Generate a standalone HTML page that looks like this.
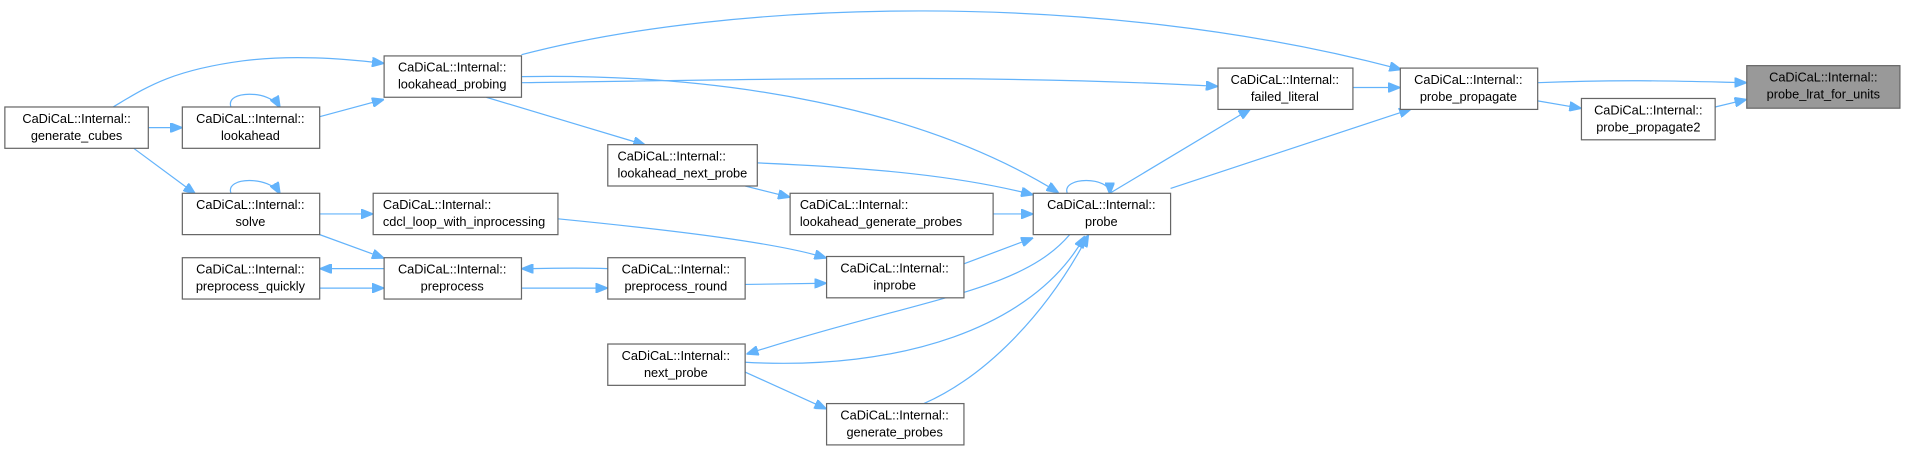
<!DOCTYPE html>
<html><head><meta charset="utf-8"><style>
html,body{margin:0;padding:0;background:#fff;}
svg{display:block;}
text{font-family:"Liberation Sans",sans-serif;font-size:10.5px;fill:#000;}
.n{fill:#fff;stroke:#666;stroke-width:1;}
.e{fill:none;stroke:#63b3fb;stroke-width:1;}
.a{fill:#63b3fb;stroke:#63b3fb;}
</style></head><body>
<svg width="1906" height="451" viewBox="0 0 1568 371" xmlns="http://www.w3.org/2000/svg">
<defs><marker id="m" markerWidth="10" markerHeight="8" refX="9" refY="4" orient="auto" markerUnits="userSpaceOnUse"><path d="M0,0 L10,4 L0,8 z" class="a"/></marker></defs>
<g class="e" marker-end="url(#m)">
<path d="M93,88 C120,72 140,58 200,50 C240,45 280,48 315,52"/>
<path d="M122,105 L149,105"/>
<path d="M110,122 L160,159"/>
<path d="M190,88 C185,74 222,74 230,88"/>
<path d="M263,96 L315,82"/>
<path d="M190,159 C185,145 222,145 230,159"/>
<path d="M263,176 L306,176"/>
<path d="M263,193 L315,212"/>
<path d="M316,221 L264,221"/>
<path d="M263,237 L315,237"/>
<path d="M500,221 C470,220 450,221 430,221"/>
<path d="M429,237 L499,237"/>
<path d="M613,234 L679,233"/>
<path d="M459,180 C560,190 640,200 679,212"/>
<path d="M793,217 L849,196"/>
<path d="M817,176 L849,176"/>
<path d="M613,153 L649,162"/>
<path d="M400,80 L530,119"/>
<path d="M623,134 C720,138 790,145 849,160"/>
<path d="M429,68 C600,66 800,60 1001,71"/>
<path d="M429,45 C600,0 900,-10 1152,57"/>
<path d="M429,63 C600,60 760,90 870,158"/>
<path d="M878,159 C873,145 913,145 913,159"/>
<path d="M880,193 C840,240 760,245 615,291"/>
<path d="M613,298 C740,305 850,270 892,195"/>
<path d="M593,297 L679,336"/>
<path d="M760,332 C810,310 860,260 895,194"/>
<path d="M913,159 L1028,90"/>
<path d="M963,155 L1160,90"/>
<path d="M1113,72 L1151,72"/>
<path d="M1265,68 C1340,65 1390,67 1436,68"/>
<path d="M1265,83 L1300,89"/>
<path d="M1411,88 L1436,82"/>
</g>
<g>
<rect class="n" x="4" y="88" width="118" height="34"/><text x="63" y="101" text-anchor="middle">CaDiCaL::Internal::</text><text x="63" y="115" text-anchor="middle">generate_cubes</text>
<rect class="n" x="150" y="88" width="113" height="34"/><text x="206" y="101" text-anchor="middle">CaDiCaL::Internal::</text><text x="206" y="115" text-anchor="middle">lookahead</text>
<rect class="n" x="316" y="46" width="113" height="34"/><text x="372" y="59" text-anchor="middle">CaDiCaL::Internal::</text><text x="372" y="73" text-anchor="middle">lookahead_probing</text>
<rect class="n" x="150" y="159" width="113" height="34"/><text x="206" y="172" text-anchor="middle">CaDiCaL::Internal::</text><text x="206" y="186" text-anchor="middle">solve</text>
<rect class="n" x="307" y="159" width="152" height="34"/><text x="315" y="172">CaDiCaL::Internal::</text><text x="315" y="186">cdcl_loop_with_inprocessing</text>
<rect class="n" x="150" y="212" width="113" height="34"/><text x="206" y="225" text-anchor="middle">CaDiCaL::Internal::</text><text x="206" y="239" text-anchor="middle">preprocess_quickly</text>
<rect class="n" x="316" y="212" width="113" height="34"/><text x="372" y="225" text-anchor="middle">CaDiCaL::Internal::</text><text x="372" y="239" text-anchor="middle">preprocess</text>
<rect class="n" x="500" y="212" width="113" height="34"/><text x="556" y="225" text-anchor="middle">CaDiCaL::Internal::</text><text x="556" y="239" text-anchor="middle">preprocess_round</text>
<rect class="n" x="680" y="211" width="113" height="34"/><text x="736" y="224" text-anchor="middle">CaDiCaL::Internal::</text><text x="736" y="238" text-anchor="middle">inprobe</text>
<rect class="n" x="500" y="119" width="123" height="34"/><text x="508" y="132">CaDiCaL::Internal::</text><text x="508" y="146">lookahead_next_probe</text>
<rect class="n" x="650" y="159" width="167" height="34"/><text x="658" y="172">CaDiCaL::Internal::</text><text x="658" y="186">lookahead_generate_probes</text>
<rect class="n" x="850" y="159" width="113" height="34"/><text x="906" y="172" text-anchor="middle">CaDiCaL::Internal::</text><text x="906" y="186" text-anchor="middle">probe</text>
<rect class="n" x="500" y="283" width="113" height="34"/><text x="556" y="296" text-anchor="middle">CaDiCaL::Internal::</text><text x="556" y="310" text-anchor="middle">next_probe</text>
<rect class="n" x="680" y="332" width="113" height="34"/><text x="736" y="345" text-anchor="middle">CaDiCaL::Internal::</text><text x="736" y="359" text-anchor="middle">generate_probes</text>
<rect class="n" x="1002" y="56" width="111" height="34"/><text x="1057" y="69" text-anchor="middle">CaDiCaL::Internal::</text><text x="1057" y="83" text-anchor="middle">failed_literal</text>
<rect class="n" x="1152" y="56" width="113" height="34"/><text x="1208" y="69" text-anchor="middle">CaDiCaL::Internal::</text><text x="1208" y="83" text-anchor="middle">probe_propagate</text>
<rect class="n" x="1301" y="81" width="110" height="34"/><text x="1356" y="94" text-anchor="middle">CaDiCaL::Internal::</text><text x="1356" y="108" text-anchor="middle">probe_propagate2</text>
<rect x="1437" y="54" width="126" height="35" fill="#999" stroke="#666"/><text x="1500" y="67" text-anchor="middle">CaDiCaL::Internal::</text><text x="1500" y="81" text-anchor="middle">probe_lrat_for_units</text>
</g>
</svg>
</body></html>
